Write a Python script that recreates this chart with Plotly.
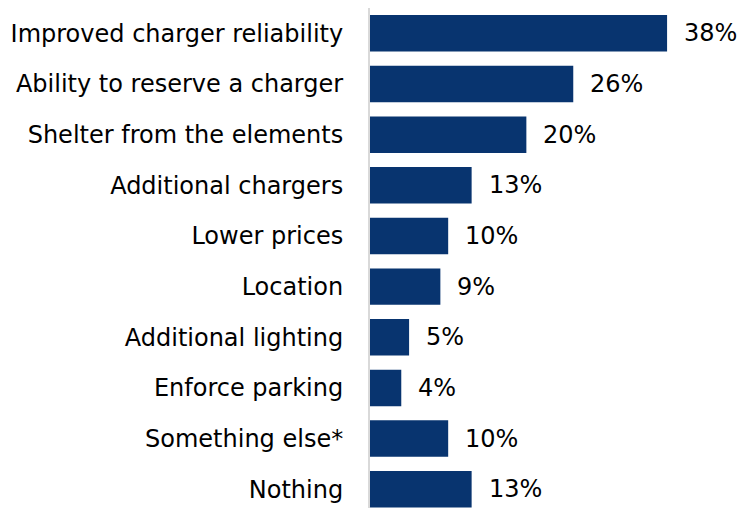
import plotly.graph_objects as go

categories = [
    "Improved charger reliability",
    "Ability to reserve a charger",
    "Shelter from the elements",
    "Additional chargers",
    "Lower prices",
    "Location",
    "Additional lighting",
    "Enforce parking",
    "Something else*",
    "Nothing",
]
values = [38, 26, 20, 13, 10, 9, 5, 4, 10, 13]
value_labels = [f"{v}%" for v in values]

BAR_COLOR = "#08346F"
FONT = "DejaVu Sans"

fig = go.Figure(
    go.Bar(
        x=values,
        y=categories,
        orientation="h",
        marker=dict(color=BAR_COLOR, line=dict(width=0)),
        width=0.72,
        hoverinfo="skip",
    )
)

for cat, v, lab in zip(categories, values, value_labels):
    fig.add_annotation(
        x=v, y=cat, text=lab, showarrow=False,
        xanchor="left", yanchor="middle", xshift=15,
        font=dict(family=FONT, size=24, color="#000000"),
    )

fig.update_layout(
    width=739, height=508,
    margin=dict(l=370, r=0, t=8, b=0),
    paper_bgcolor="white", plot_bgcolor="white",
    showlegend=False,
    font=dict(family=FONT, size=24, color="#000000"),
)
fig.update_xaxes(
    range=[0, 47.2], visible=False, showgrid=False, zeroline=False,
)
fig.update_yaxes(
    categoryorder="array", categoryarray=categories,
    range=[9.37, -0.5],
    showline=True, linecolor="#D9D9D9", linewidth=2,
    showgrid=False, zeroline=False, ticks="",
    ticklabelstandoff=20,
    tickfont=dict(family=FONT, size=24, color="#000000"),
)

fig.write_html("out.html")
